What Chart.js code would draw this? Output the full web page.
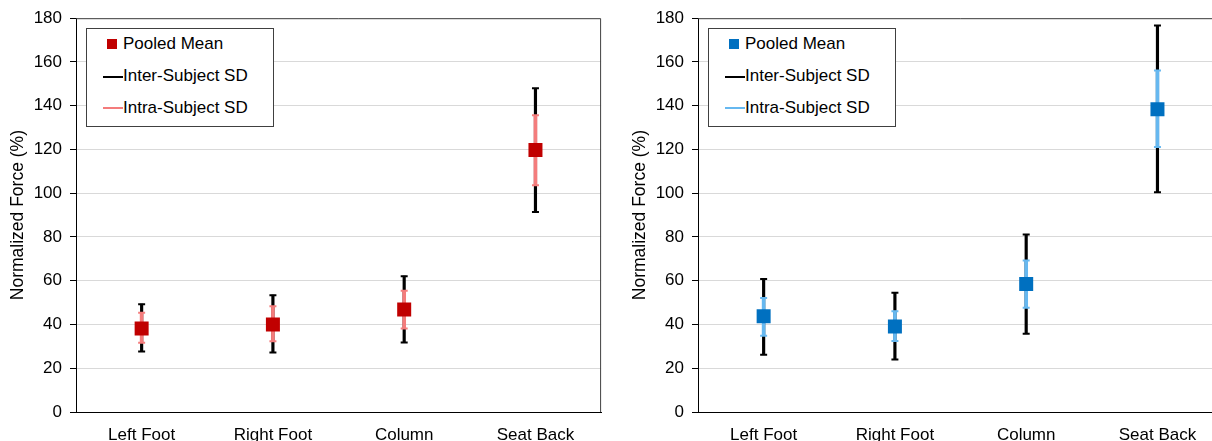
<!DOCTYPE html>
<html>
<head>
<meta charset="utf-8">
<script src="https://cdn.jsdelivr.net/npm/chart.js@4.4.1/dist/chart.umd.min.js"></script>
<style>
  body { margin: 0; width: 1212px; height: 441px; overflow: hidden; background: white; position: relative; font-family: "Liberation Sans", Arial, sans-serif; }
  .panel { position: absolute; top: 0; }
  .legend { position: absolute; top: 28px; width: 186px; height: 97px; border: 1px solid #404040; background: white; font-size: 17px; color: #000; }
  .legend div { position: absolute; left: 36px; line-height: 20px; white-space: nowrap; }
  .legend span { position: absolute; }
</style>
</head>
<body>
<div class="panel" style="left:0px"><canvas id="leftChart" width="611" height="441"></canvas></div>
<div class="legend" style="left:86px">
  <span style="left:20px; top:10px; width:10px; height:10px; background:#C00000"></span>
  <div style="top:5px">Pooled Mean</div>
  <span style="left:16px; top:47px; width:20px; height:2px; background:#000"></span>
  <div style="top:37px">Inter-Subject SD</div>
  <span style="left:16px; top:78px; width:20px; height:2px; background:#F47C7C"></span>
  <div style="top:69px">Intra-Subject SD</div>
</div>
<div class="panel" style="left:622px"><canvas id="rightChart" width="611" height="441"></canvas></div>
<div class="legend" style="left:708px">
  <span style="left:20px; top:10px; width:10px; height:10px; background:#0070C0"></span>
  <div style="top:5px">Pooled Mean</div>
  <span style="left:16px; top:47px; width:20px; height:2px; background:#000"></span>
  <div style="top:37px">Inter-Subject SD</div>
  <span style="left:16px; top:78px; width:20px; height:2px; background:#66B8F0"></span>
  <div style="top:69px">Intra-Subject SD</div>
</div>
<script>
const categories = ['Left Foot', 'Right Foot', 'Column', 'Seat Back'];
const yTicks = [0, 20, 40, 60, 80, 100, 120, 140, 160, 180];

const leftMean = [38.2, 40.0, 46.9, 119.8];
const leftInterLow = [27.7, 27.2, 31.8, 91.4];
const leftInterHigh = [49.3, 53.4, 62.1, 148.0];
const leftIntraLow = [31.7, 32.3, 38.2, 103.6];
const leftIntraHigh = [45.4, 48.3, 55.4, 135.6];

const rightMean = [43.8, 39.1, 58.5, 138.4];
const rightInterLow = [26.2, 24.0, 35.8, 100.5];
const rightInterHigh = [60.8, 54.5, 81.1, 176.7];
const rightIntraLow = [34.9, 32.4, 47.7, 121.1];
const rightIntraHigh = [52.1, 46.1, 69.3, 156.1];

const fontFamily = '"Liberation Sans", Arial, sans-serif';

// frame around the plot area (top and right edges)
const plotBorder = {
  id: 'plotBorder',
  afterDraw(chart) {
    const a = chart.chartArea;
    const ctx = chart.ctx;
    ctx.save();
    ctx.strokeStyle = '#404040';
    ctx.lineWidth = 1;
    ctx.beginPath();
    ctx.moveTo(a.left, a.top + 0.5);
    ctx.lineTo(a.right - 0.5, a.top + 0.5);
    ctx.lineTo(a.right - 0.5, a.bottom);
    ctx.stroke();
    ctx.restore();
  }
};

function ranges(low, high) {
  return low.map((v, i) => [v, high[i]]);
}

function capDataset(values, color) {
  return {
    type: 'line',
    data: values,
    showLine: false,
    pointStyle: 'line',
    pointRadius: 3.5,
    pointBorderWidth: 2,
    pointBorderColor: color,
    pointHoverRadius: 3.5,
  };
}

function generateErrorChartObject(mean, interLow, interHigh, intraLow, intraHigh, meanColor, intraColor) {
  const chart = {
    type: 'bar',
    data: {
      labels: categories,
      datasets: [
        {
          type: 'line',
          label: 'Pooled Mean',
          data: mean,
          showLine: false,
          pointStyle: 'rect',
          pointRadius: 9.9,
          pointHoverRadius: 9.9,
          pointBorderWidth: 0,
          pointBackgroundColor: meanColor,
        },
        capDataset(intraLow, intraColor),
        capDataset(intraHigh, intraColor),
        {
          label: 'Intra-Subject SD',
          data: ranges(intraLow, intraHigh),
          backgroundColor: intraColor,
          barThickness: 3,
          grouped: false,
        },
        capDataset(interLow, '#000'),
        capDataset(interHigh, '#000'),
        {
          label: 'Inter-Subject SD',
          data: ranges(interLow, interHigh),
          backgroundColor: '#000',
          barThickness: 2.5,
          grouped: false,
        },
      ],
    },
    options: {
      responsive: false,
      animation: false,
      devicePixelRatio: 1,
      layout: { padding: { top: 18, right: 7, left: 0, bottom: 0 } },
      scales: {
        x: {
          offset: true,
          grid: { display: false, drawTicks: false },
          border: { color: '#000', width: 1 },
          ticks: { color: '#000', font: { size: 17, family: fontFamily }, padding: 13, maxRotation: 0 },
          afterFit: (scale) => { scale.height = 29; },
        },
        y: {
          min: 0,
          max: 180,
          afterBuildTicks: (scale) => { scale.ticks = yTicks.map(v => ({ value: v })); },
          grid: { color: '#D9D9D9', tickColor: '#000', tickLength: 6 },
          border: { color: '#000', width: 1 },
          ticks: { color: '#000', font: { size: 17, family: fontFamily }, padding: 8 },
          title: {
            display: true,
            text: 'Normalized Force (%)',
            color: '#000',
            font: { size: 17.5, family: fontFamily },
            padding: { top: 8, bottom: 0 },
          },
          afterFit: (scale) => { scale.width = 76; },
        },
      },
      plugins: {
        legend: { display: false },
        tooltip: { enabled: false },
      },
    },
    plugins: [plotBorder],
  };
  return chart;
}

new Chart('leftChart', generateErrorChartObject(
  leftMean, leftInterLow, leftInterHigh, leftIntraLow, leftIntraHigh, '#C00000', '#F47C7C'));
new Chart('rightChart', generateErrorChartObject(
  rightMean, rightInterLow, rightInterHigh, rightIntraLow, rightIntraHigh, '#0070C0', '#66B8F0'));
</script>
</body>
</html>
